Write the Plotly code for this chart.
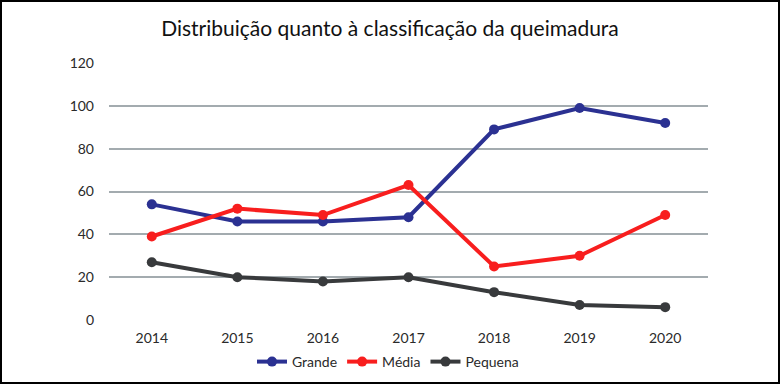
import plotly.graph_objects as go

years = ["2014", "2015", "2016", "2017", "2018", "2019", "2020"]
grande = [54, 46, 46, 48, 89, 99, 92]
media = [39, 52, 49, 63, 25, 30, 49]
pequena = [27, 20, 18, 20, 13, 7, 6]
y_ticks = [0, 20, 40, 60, 80, 100, 120]

W, H = 780, 385
L, R, T, B = 109, 72, 63, 65
pw, ph = W - L - R, H - T - B

fig = go.Figure()
for name, vals, col in [("Grande", grande, "#2B3192"), ("Média", media, "#F81E1E"), ("Pequena", pequena, "#383A3C")]:
    fig.add_trace(go.Scatter(x=years, y=vals, name=name, mode="lines+markers",
                             line=dict(color=col, width=4), marker=dict(color=col, size=10)))

fig.update_layout(
    width=W, height=H, margin=dict(l=L, r=R, t=T, b=B, autoexpand=False),
    paper_bgcolor="white", plot_bgcolor="white",
    font=dict(family="Lato", color="#2a2a2a", size=14),
    title=dict(text="Distribuição quanto à classificação da queimadura", x=0.5, xanchor="center",
               y=1 - 29 / H, yanchor="middle", font=dict(size=21, color="#111111", family="Lato")),
    xaxis=dict(type="category", range=[-0.5, 6.5], showgrid=False, showline=False, ticks="",
               tickfont=dict(size=14), ticklabelstandoff=8),
    yaxis=dict(range=[0, 120], tickvals=y_ticks, showgrid=True, gridcolor="#A3ABAF", gridwidth=1.5,
               zeroline=False, showline=False, ticks="", tickfont=dict(size=14), ticklabelstandoff=14),
    legend=dict(orientation="h", x=(388 - L) / pw, xanchor="center", y=-(362 - 320) / ph, yanchor="middle",
                font=dict(size=14), tracegroupgap=0, bgcolor="rgba(0,0,0,0)"),
    showlegend=True,
)
fig.add_shape(type="rect", xref="paper", yref="paper",
              x0=-(L - 1) / pw, x1=(W - 1 - L) / pw, y0=-(H - 2 - T - ph) / ph, y1=1 + (T - 1) / ph,
              line=dict(color="black", width=2), fillcolor="rgba(0,0,0,0)", layer="above")
fig.write_html("out.html", config={"displayModeBar": False},
               post_script="document.body.style.margin='0';")
